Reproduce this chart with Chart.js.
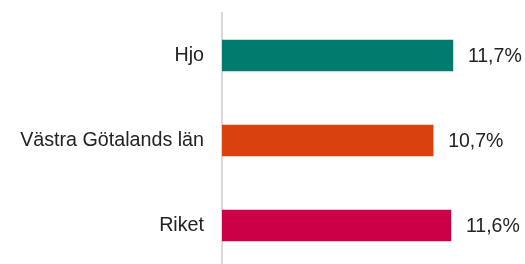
<!DOCTYPE html>
<html lang="sv">
  <head>
    <meta charset="UTF-8" />
    <title>Andel</title>
    <script src="https://cdn.jsdelivr.net/npm/chart.js"></script>
    <style>
      html, body { margin: 0; padding: 0; overflow: hidden; background: #fff; }
      #wrap { width: 525px; height: 268px; }
    </style>
  </head>
  <body>
    <div id="wrap"><canvas id="chart"></canvas></div>
    <script>
      const categories = ["Hjo", "Västra Götalands län", "Riket"];
      const values = [11.7, 10.7, 11.6];
      const barColors = ["#007b6e", "#d9410f", "#cc0047"];

      const fontFamily = "'Liberation Sans', Arial, sans-serif";

      // value labels to the right of each bar
      const valueLabels = {
        id: "valueLabels",
        afterDatasetsDraw(chart) {
          const ctx = chart.ctx;
          const meta = chart.getDatasetMeta(0);
          ctx.save();
          ctx.font = "19.5px " + fontFamily;
          ctx.fillStyle = "#222";
          ctx.textAlign = "left";
          ctx.textBaseline = "middle";
          meta.data.forEach((bar, i) => {
            const txt = values[i].toFixed(1).replace(".", ",") + "%";
            ctx.fillText(txt, bar.x + 15, bar.y + 1);
          });
          ctx.restore();
        },
      };

      new Chart(document.getElementById("chart"), {
        type: "bar",
        data: {
          labels: categories,
          datasets: [
            {
              data: values,
              backgroundColor: barColors,
              barThickness: 31,
            },
          ],
        },
        options: {
          indexAxis: "y",
          responsive: true,
          maintainAspectRatio: false,
          animation: false,
          layout: { padding: { top: 13, right: 7, bottom: 0, left: 0 } },
          plugins: {
            legend: { display: false },
            tooltip: { enabled: false },
          },
          scales: {
            x: { display: false, min: 0, max: 15 },
            y: {
              grid: { display: false },
              border: { display: true, color: "#d9d9d9", width: 2 },
              ticks: {
                color: "#222",
                padding: 10,
                font: { size: 19.7, family: fontFamily },
              },
              afterFit: (scale) => {
                scale.width = 222;
                scale.paddingTop = 0;
                scale.paddingBottom = 0;
              },
            },
          },
        },
        plugins: [valueLabels],
      });
    </script>
  </body>
</html>
